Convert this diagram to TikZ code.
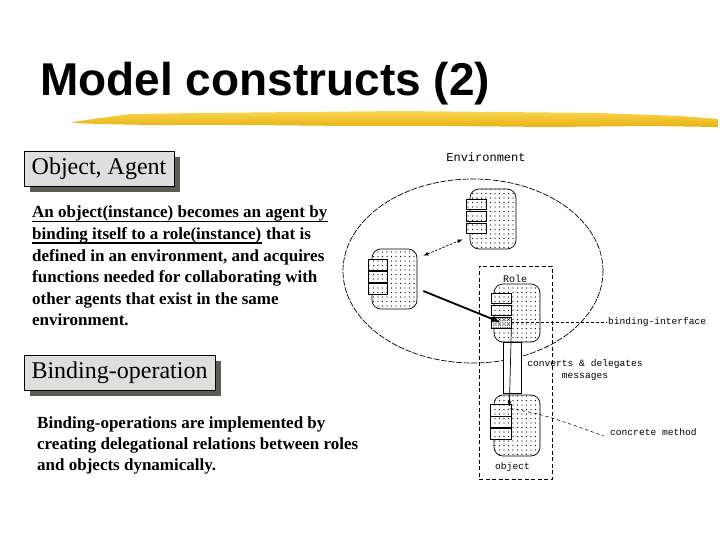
\documentclass[tikz,border=0pt]{standalone}
\usepackage{fontspec}
\setmainfont{Liberation Serif}
\newfontfamily\titlefont{Liberation Sans}
\newfontfamily\monof{Liberation Mono}
\usetikzlibrary{arrows.meta,patterns.meta,shadows}
\definecolor{shadowc}{HTML}{5E5A55}
\definecolor{hdrfill}{HTML}{DEDEDE}
\definecolor{brushA}{HTML}{F8D850}
\definecolor{brushB}{HTML}{E8B012}
\tikzset{
 hdr/.style={draw=black, line width=0.8pt, fill=hdrfill, inner sep=0pt,
   general shadow={fill=shadowc, shadow xshift=6pt, shadow yshift=-6pt},
   font=\fontsize{24}{24}\selectfont},
 body/.style={anchor=base west, inner sep=0pt, font=\fontsize{17}{17}\selectfont\bfseries},
 rbox/.style={draw, line width=0.7pt, rounded corners=9pt, inner sep=0pt,
   pattern={Dots[distance=4.5pt,radius=0.6pt]}, pattern color=black},
 mbox/.style={draw, line width=0.7pt, fill=white, inner sep=0pt,
   minimum width=20pt, minimum height=10pt,
   postaction={pattern={Dots[distance=4.5pt,radius=0.6pt]}, pattern color=black}},
 lbl/.style={font=\monof\fontsize{9.6}{12}\selectfont, inner sep=0pt},
 thin/.style={line width=0.7pt},
 smalltip/.tip={Latex[length=5pt,width=4pt]},
}
\begin{document}
\begin{tikzpicture}[x=1pt,y=-1pt]
\useasboundingbox (0,0) rectangle (720,540);
\fill[white] (0,0) rectangle (720,540);
% title
\node[anchor=base west, inner sep=0pt, font=\titlefont\fontsize{46}{46}\selectfont\bfseries] (title) at (40,96) {Model constructs (2)};
% brush stroke
\shade[top color=brushA, bottom color=brushB] (73,122) -- (100,118) -- (130,114) -- (200,113) -- (300,112) -- (400,111) -- (500,112) -- (600,113) -- (680,116) -- (718,119) -- (718,127) -- (650,126) -- (550,127) -- (450,126) -- (350,126) -- (250,125) -- (150,125) -- (100,124) -- (73,123) -- cycle;
% headers
\node[hdr, minimum width=150pt, minimum height=35pt] (h1) at (99,168.5) {Object, Agent};
\node[hdr, minimum width=191pt, minimum height=35pt] (h2) at (119.5,372.5) {Binding-operation};
% paragraph 1
\node[body] (p1) at (32,218) {An object(instance) becomes an agent by};
\node[body] (p2a) at (32,239.5) {binding itself to a role(instance)};
\node[body] (p2b) at (p2a.base east) {\ that is};
\node[body] (p3) at (32,261) {defined in an environment, and acquires};
\node[body] (p4) at (32,282.5) {functions needed for collaborating with};
\node[body] (p5) at (32,304) {other agents that exist in the same};
\node[body] (p6) at (32,325.5) {environment.};
\draw[line width=1.3pt] ([yshift=-3.5pt]p1.base west) -- ([yshift=-3.5pt]p1.base east);
\draw[line width=1.3pt] ([yshift=-3.5pt]p2a.base west) -- ([yshift=-3.5pt]p2a.base east);
% paragraph 2
\node[body] (q1) at (37,428) {Binding-operations are implemented by};
\node[body] (q2) at (37,449) {creating delegational relations between roles};
\node[body] (q3) at (37,470) {and objects dynamically.};
% diagram
\draw[line width=0.7pt, dash pattern=on 6pt off 1.5pt] (473,271) ellipse [x radius=130pt, y radius=92pt];
\node[lbl, font=\monof\fontsize{12}{12}\selectfont] (env) at (486,157) {Environment};
\node[draw, line width=0.7pt, dash pattern=on 4pt off 2.5pt, minimum width=73pt, minimum height=213pt, inner sep=0pt] (cont) at (515.5,372.5) {};
% top object
\node[rbox, minimum width=46pt, minimum height=60pt] (to) at (493,219) {};
\node[mbox] (t1) at (476,204) {};
\node[mbox] (t2) at (476,216) {};
\node[mbox] (t3) at (476,228) {};
% left object
\node[rbox, minimum width=45pt, minimum height=60pt] (lo) at (394.5,279) {};
\node[mbox, minimum width=19pt, minimum height=11pt] (lb1) at (377.5,264.5) {};
\node[mbox, minimum width=19pt, minimum height=11pt] (lb2) at (377.5,276.5) {};
\node[mbox, minimum width=19pt, minimum height=11pt] (lb3) at (377.5,288.5) {};
% role
\node[rbox, minimum width=46pt, minimum height=58pt] (ro) at (517,313) {};
\node[lbl, font=\monof\fontsize{10}{10}\selectfont] (rl) at (515,279) {Role};
\node[mbox] (rb1) at (501,298) {};
\node[mbox, minimum height=9.5pt] (rb2) at (501,310.5) {};
\node[mbox, minimum height=11pt, postaction={pattern={Dots[distance=1.8pt,radius=0.45pt]}}] (bi) at (501,322.5) {};
% tube
\node[draw, thin, fill=white, minimum width=18pt, minimum height=51pt, inner sep=0pt] (tube) at (512,367.5) {};
% object
\node[rbox, minimum width=46pt, minimum height=61pt] (ob) at (517,425.5) {};
\node[mbox, minimum width=21pt, minimum height=11.5pt] (m1) at (500.5,410.5) {};
\node[mbox, minimum width=21pt, minimum height=11.5pt] (m2) at (500.5,422) {};
\node[mbox, minimum width=21pt, minimum height=11.5pt] (m3) at (500.5,433.5) {};
\draw[line width=1.6pt] (m1.south west) -- (m1.south east);
\draw[line width=1.6pt] (m2.south west) -- (m2.south east);
\node[lbl] (obl) at (512.5,467) {object};
% connectors
\draw[thin, dash pattern=on 2.5pt off 1.5pt, smalltip-smalltip] ([shift={(6pt,-7pt)}]lo.north east) -- ([shift={(-7pt,10pt)}]to.south west);
\draw[line width=1.8pt, -{Latex[length=9pt,width=6pt]}] ([shift={(6pt,-12pt)}]lo.east) -- (bi.center);
\coordinate (biend) at (607,322.5);
\draw[line width=0.6pt, dash pattern=on 3pt off 2pt] (bi.east) -- (biend);
\node[lbl, anchor=west] (bil) at (608,322) {binding-interface};
\draw[thin, -smalltip] (bi.south east) -- ([shift={(-2pt,-2pt)}]m1.north east);
\coordinate (cmend) at (604,436);
\draw[line width=0.6pt, dash pattern=on 3pt off 3pt] ([shift={(-1pt,-4pt)}]m1.north east) .. controls (545,415) .. (cmend);
\node[lbl, anchor=west] (cml) at (610,432) {concrete method};
\node[lbl, align=center] (cdl) at (585,370) {converts \& delegates\\messages};
\end{tikzpicture}
\end{document}
